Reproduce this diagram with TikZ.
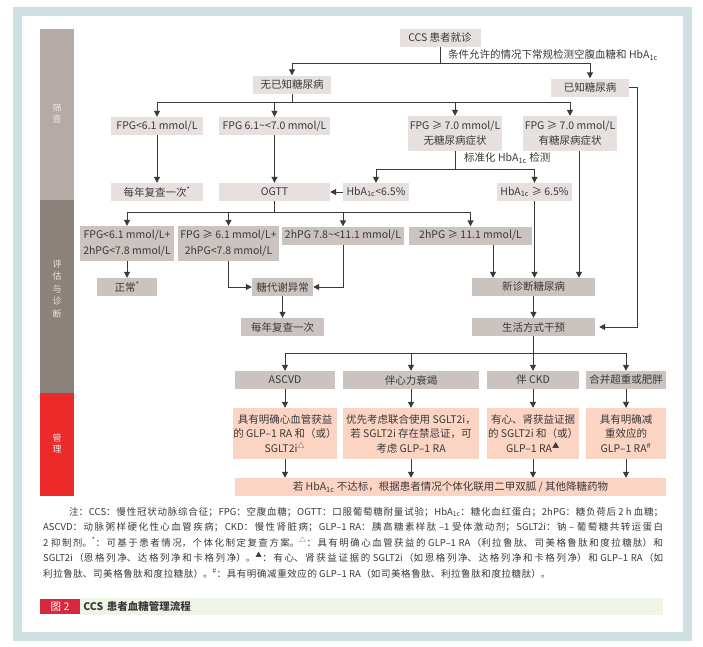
\documentclass[tikz,border=0pt]{standalone}
\usepackage{fontspec}
\setmainfont{Noto Sans CJK SC}
\usetikzlibrary{arrows.meta}
\XeTeXlinebreaklocale "zh"
\XeTeXlinebreakskip=0pt plus 2pt
\definecolor{frameblue}{HTML}{CFE0E3}
\definecolor{sidea}{HTML}{B5AAA6}
\definecolor{sideb}{HTML}{8D817C}
\definecolor{sidec}{HTML}{EC2A2A}
\definecolor{sidetxt}{HTML}{EDE6E3}
\definecolor{boxl}{HTML}{E6E1DE}
\definecolor{boxd}{HTML}{CBC3BF}
\definecolor{boxp}{HTML}{FBD4C3}
\definecolor{txt}{HTML}{3A3A3A}
\definecolor{capred}{HTML}{D8283E}
\definecolor{capgreen}{HTML}{EEF4E6}
\newcommand\hba{HbA\textsubscript{1c}}

\begin{document}
\begin{tikzpicture}[x=1pt,y=-1pt,>={Triangle[length=6pt,width=6pt]},
  font=\fontsize{10.5}{15.5}\selectfont,
  lbox/.style={fill=boxl,text=txt,inner sep=0pt,minimum height=18pt,align=center},
  dbox/.style={lbox,fill=boxd},
  pbox/.style={lbox,fill=boxp,minimum height=51pt,font=\fontsize{10.5}{14.5}\selectfont},
  plain/.style={draw=txt,line width=1pt},
  flow/.style={plain,->},
  side/.style={text=sidetxt,align=center,inner sep=0pt}]
\useasboundingbox (0,0) rectangle (703,646);
\fill[white] (0,0) rectangle (703,646);
\draw[frameblue,line width=9pt] (17.5,11.5) rectangle (687.5,636.5);

% side bars
\fill[sidea] (40,29) rectangle (74,200);
\fill[sideb] (40,200) rectangle (74,393);
\fill[sidec] (40,393) rectangle (74,496);
\node[side,font=\fontsize{9}{11}\selectfont] (lsa) at (57,113) {筛\\查};
\node[side,font=\fontsize{9}{12.4}\selectfont] (lsb) at (57,289) {评\\估\\与\\诊\\断};
\node[side,font=\fontsize{9}{11}\selectfont] (lsc) at (57,443) {管\\理};

% screening
\node[lbox,minimum width=81pt] (ccs) at (440,38) {CCS 患者就诊};
\node[lbox,minimum width=78pt] (nodm) at (292,84.5) {无已知糖尿病};
\node[lbox,minimum width=78pt] (dm) at (590,87.5) {已知糖尿病};
\node[lbox,minimum width=92pt] (fpga) at (157,126) {FPG<6.1 mmol/L};
\node[lbox,minimum width=111pt] (fpgb) at (274.5,126) {FPG 6.1\textasciitilde<7.0 mmol/L};
\node[lbox,minimum width=94pt,minimum height=35pt] (fpgc) at (455,133.5) {FPG ≥ 7.0 mmol/L\\无糖尿病症状};
\node[lbox,minimum width=94pt,minimum height=35pt] (fpgd) at (570,133.5) {FPG ≥ 7.0 mmol/L\\有糖尿病症状};
\node[lbox,minimum width=92pt] (yra) at (157,192) {每年复查一次\textsuperscript{*}};
\node[lbox,minimum width=111pt] (ogtt) at (274.5,192) {OGTT};
\node[lbox,minimum width=66pt] (hbl) at (376,192) {\hba<6.5\%};
\node[lbox,minimum width=75pt] (hbh) at (534.5,192) {\hba{} ≥ 6.5\%};

\draw[plain] (ccs.south) -- ++(0,16) coordinate (s1);
\draw[flow] (s1) -| (nodm.north);
\draw[flow] (s1) -| (dm.north);
\node[anchor=west,text=txt,inner sep=0pt] (cond) at (448,55) {条件允许的情况下常规检测空腹血糖和 \hba};
\draw[plain] (nodm.south) -- ++(0,8.5) coordinate (s2);
\foreach \t in {fpga,fpgb,fpgc,fpgd}
  \draw[flow] (s2) -| (\t.north);
\draw[flow] (fpga) -- (yra);
\draw[flow] (fpgb) -- (ogtt);
\draw[plain] (fpgc.south) -- ++(0,18) coordinate (s3);
\draw[flow] (s3) -| (hbl.north);
\draw[flow] (s3) -| (hbh.north);
\node[anchor=west,text=txt,inner sep=0pt] (std) at (464,158) {标准化 \hba{} 检测};
\draw[flow] (hbl) -- (ogtt);

% diagnosis
\node[dbox,minimum width=94pt,minimum height=35pt] (oa) at (127,243.5) {FPG<6.1 mmol/L+\\2hPG<7.8 mmol/L};
\node[dbox,minimum width=101pt,minimum height=35pt] (ob) at (228.5,243.5) {FPG ≥ 6.1 mmol/L+\\2hPG<7.8 mmol/L};
\node[dbox,minimum width=122pt] (oc) at (343,235.5) {2hPG 7.8\textasciitilde<11.1 mmol/L};
\node[dbox,minimum width=123pt] (od) at (470.5,235.5) {2hPG ≥ 11.1 mmol/L};
\node[dbox,minimum width=60pt] (norm) at (127,287) {正常\textsuperscript{*}};
\node[dbox,minimum width=61pt] (abn) at (282.5,287) {糖代谢异常};
\node[dbox,minimum width=83pt] (yrb) at (282.5,327) {每年复查一次};
\node[dbox,minimum width=123pt] (newdm) at (533.5,287) {新诊断糖尿病};
\node[dbox,minimum width=123pt] (life) at (533.5,327) {生活方式干预};

\draw[plain] (ogtt.south) -- ++(0,11) coordinate (s4);
\foreach \t in {oa,ob,oc,od}
  \draw[flow] (s4) -| (\t.north);
\draw[flow] (oa) -- (norm);
\draw[flow] (ob.south) |- (abn.west);
\draw[flow] (oc.south) |- (abn.east);
\draw[flow] (abn) -- (yrb);
\draw[flow] ([xshift=22.5pt]od.south) -- ([xshift=22.5pt]od.south |- newdm.north);
\draw[flow] (hbh.south) -- (hbh.south |- newdm.north);
\draw[flow] ([xshift=9pt]fpgd.south) -- ([xshift=9pt]fpgd.south |- newdm.north);
\draw[flow] (newdm) -- (life);
\draw[flow,shorten >=4pt] (dm.east) -- ++(8,0) |- (life.east);

% management
\draw[plain] (life.south) -- ++(0,17) coordinate (s5);
\node[pbox,minimum width=431pt,minimum height=18pt] (bar) at (450.5,487) {若 \hba{} 不达标，根据患者情况个体化联用二甲双胍 / 其他降糖药物};
\foreach \n/\x/\w/\hd/\tx in {
  a/285/100/ASCVD/{具有明确心血管获益\\的 GLP--1 RA 和（或）\\SGLT2i\textsuperscript{△}},
  b/411/136/伴心力衰竭/{优先考虑联合使用 SGLT2i，\\若 SGLT2i 存在禁忌证，可\\考虑 GLP--1 RA},
  c/533/92/伴 CKD/{有心、肾获益证据\\的 SGLT2i 和（或）\\GLP--1 RA\textsuperscript{▲}},
  d/626/80/合并超重或肥胖/{具有明确减\\重效应的\\GLP--1 RA\textsuperscript{\#}}}
{
  \node[dbox,minimum width=\w pt] (hd\n) at (\x,380) {\hd};
  \node[pbox,minimum width=\w pt] (pk\n) at (\x,433.5) {\tx};
  \draw[flow] (s5) -| (hd\n.north);
  \draw[flow] (hd\n) -- (pk\n);
  \draw[flow] (pk\n.south) -- (pk\n.south |- bar.north);
}

% notes
\node[anchor=north west,inner sep=0pt,text=txt,text width=620pt,align=justify,
  font=\fontsize{9.5}{15.5}\selectfont] (note) at (43,507) {\tolerance=10000
\XeTeXlinebreakskip=0.6pt plus 2pt
\hspace*{26pt}注：CCS：慢性冠状动脉综合征；FPG：空腹血糖；OGTT：口服葡萄糖耐量试验；\hba：糖化血红蛋白；2hPG：糖负荷后 2 h 血糖；\linebreak
ASCVD：动脉粥样硬化性心血管疾病；CKD：慢性肾脏病；GLP--1 RA：胰高糖素样肽 --1 受体激动剂；SGLT2i：钠 -- 葡萄糖共转运蛋白\linebreak
2 抑制剂。\textsuperscript{*}：可基于患者情况，个体化制定复查方案。\textsuperscript{△}：具有明确心血管获益的 GLP--1 RA（利拉鲁肽、司美格鲁肽和度拉糖肽）和\linebreak
SGLT2i（恩格列净、达格列净和卡格列净）。\textsuperscript{▲}：有心、肾获益证据的 SGLT2i（如恩格列净、达格列净和卡格列净）和 GLP--1 RA（如\linebreak
利拉鲁肽、司美格鲁肽和度拉糖肽）。\textsuperscript{\#}：具有明确减重效应的 GLP--1 RA（如司美格鲁肽、利拉鲁肽和度拉糖肽）。};

% caption
\node[fill=capred,text=white,inner sep=0pt,minimum width=40pt,minimum height=15pt] (fig) at (60,606.5) {图 2};
\node[fill=capgreen,text=txt,anchor=west,inner sep=3pt,text width=577pt,minimum height=15pt] (cap) at (fig.east) {\bfseries CCS 患者血糖管理流程};
\end{tikzpicture}
\end{document}
